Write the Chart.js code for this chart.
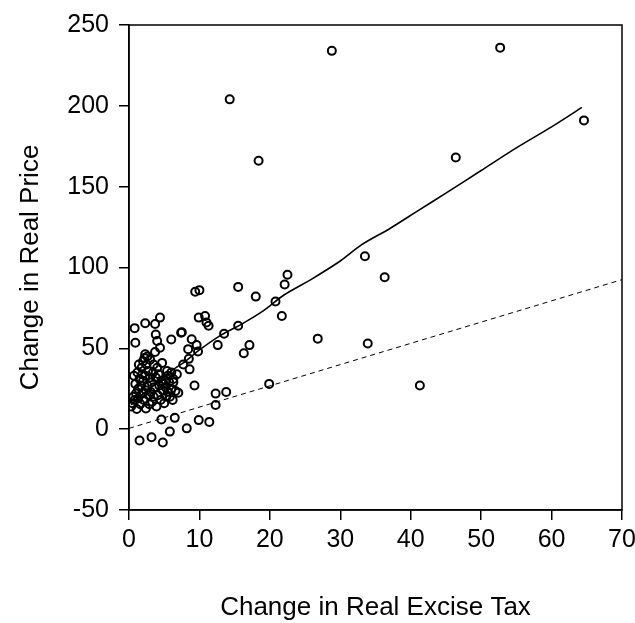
<!DOCTYPE html>
<html><head><meta charset="utf-8">
<script src="https://cdn.jsdelivr.net/npm/chart.js@4"></script>
<style>html,body{margin:0;padding:0;background:#fff}#wrap{width:635px;height:623px}</style>
</head><body><div id="wrap"><canvas id="c" width="635" height="623"></canvas></div>
<script>
const xTitle = "Change in Real Excise Tax";
const yTitle = "Change in Real Price";
const xTicks = [0,10,20,30,40,50,60,70];
const yTicks = [-50,0,50,100,150,200,250];
// observations [excise tax change, price change]
const taxChange = [14.3,28.8,52.7,64.6,46.4,18.4,33.5,36.3,33.9,41.3,26.8,19.9,
22.5,22.1,20.8,21.7,18,15.5,9.4,10,15.5,13.5,17.1,16.3,12.6,13.8,12.3,12.3,11.4,9.9,8.2,
9.9,10.8,11,11.3,7.5,8.9,9.6,8.4,9.8,8.5,8.6,7.7,9.3,7,6.3,
1.5,3.2,4.8,5.8,4.6,6.5,
0.8,2.3,3.7,4.4,0.9,3.8,4,4.4,6,7.4,3.7,2.3,
0.3,0.5,0.8,1.1,0.6,1,1.3,0.9,1.5,1.2,1.8,2,2.2,2.5,2.7,2.3,2,1.7,2.4,2.8,2.1,1.6,2.9,3.3,3.5,3.1,3.6,3.2,3.8,3.4,4,4.2,4.6,4.3,4.8,4.1,4.5,5,5.3,5.5,5.2,5.7,5.2,5.5,6,6.8,6.6,6,5.8,6.2,5.4,4.7,3,2.6,1.4,0.7,1.9,2.6,3.9,2.4,1.9,3.5,4.9,6.3,1.3,3];
const priceChange = [204,234,236,191,168,166,107,94,53,27,56,28,
95.5,89.5,79,70,82,88,85,86,64,59,52,47,52,23,22,15,4.5,5.6,0.5,
69,70,66,64,60,55.6,52,49.5,48,43.5,37,40,27,22.5,29,
-7,-5,-8.3,-1.5,6,7,
62.5,65.5,65,69,53.5,58.6,54.5,50.4,55.5,59.6,47.7,46.3,
14,16,18,12.5,20,22,25,28,31,35,38,42,44,40,36,33,30,27,24,21,18,15.5,15.4,17,20,23,26,29,32,35,38,34,30,27,24,21,18,16,20,23,26,29,30,33,35,34,23.6,25,20,18,36,41,43,45,40,33,22,27,14,12.8,34,40,28,31,19,32];
// nonparametric fit (solid)
const fitX = [0.3,2,4,6,8,10,13,16,19,22,26,30,33,37,41,45,50,55,60,64.3];
const fitY = [15,22,29,36,42,49,58,65,73,83,93,104,114,124,135,146,160,174,187,199];
// reference line (dashed)
const refX = [0,70];
const refY = [0.5,92.5];

const pts = taxChange.map((x,i)=>({x:x,y:priceChange[i]}));
const fit = fitX.map((x,i)=>({x:x,y:fitY[i]}));
const ref = refX.map((x,i)=>({x:x,y:refY[i]}));

const frame = {id:'frame',afterDraw(ch){const a=ch.chartArea,c=ch.ctx;c.save();c.strokeStyle='#000';c.lineWidth=1.5;c.strokeRect(a.left,a.top,a.right-a.left,a.bottom-a.top);c.restore();}};
const F = "'Liberation Sans', Arial, sans-serif";
new Chart(document.getElementById('c'),{
  type:'scatter',
  data:{datasets:[
    {data:fit,showLine:true,borderColor:'#000',borderWidth:1.6,pointRadius:0,fill:false,tension:0.3,order:1},
    {data:ref,showLine:true,borderColor:'#000',borderWidth:1,borderDash:[5,4],pointRadius:0,fill:false,order:2},
    {data:pts,pointRadius:4,pointBorderWidth:2,pointBorderColor:'#000',pointBackgroundColor:'rgba(0,0,0,0)',order:3}
  ]},
  options:{
    responsive:false,animation:false,
    layout:{padding:{top:22,right:0,left:0,bottom:0}},
    plugins:{legend:{display:false},tooltip:{enabled:false}},
    scales:{
      x:{type:'linear',min:0,max:70,
        afterBuildTicks(s){s.ticks=xTicks.map(v=>({value:v}));},
        afterFit(s){s.height=113;s.paddingRight=13;},
        grid:{display:true,drawOnChartArea:false,drawTicks:true,tickLength:10,color:'#000',lineWidth:1.5},
        border:{display:true,color:'#000',width:1.5},
        ticks:{color:'#000',font:{family:F,size:25},padding:5,maxRotation:0},
        title:{display:true,text:xTitle,color:'#000',font:{family:F,size:26},padding:{top:0,bottom:0}}
      },
      y:{type:'linear',min:-50,max:250,
        afterBuildTicks(s){s.ticks=yTicks.map(v=>({value:v}));},
        afterFit(s){s.width=129;},
        grid:{display:true,drawOnChartArea:false,drawTicks:true,tickLength:10,color:'#000',lineWidth:1.5},
        border:{display:true,color:'#000',width:1.5},
        ticks:{color:'#000',font:{family:F,size:25},padding:10},
        title:{display:true,text:yTitle,color:'#000',font:{family:F,size:26},padding:{top:15,bottom:0}}
      }
    }
  },
  plugins:[frame]
});
</script></body></html>
